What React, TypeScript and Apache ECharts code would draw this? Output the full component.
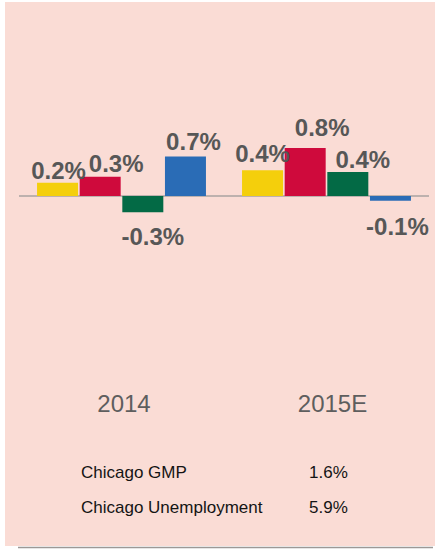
import React, { useEffect, useRef } from "react";
import * as echarts from "echarts";

const categories = ["2014", "2015E"];
const seriesNames = ["S1", "S2", "S3", "S4"];
const seriesColors = ["#f4cf0c", "#cf0a3c", "#036a45", "#2a6cb6"];
const valuesS1 = [0.22, 0.43];
const valuesS2 = [0.32, 0.8];
const valuesS3 = [-0.27, 0.4];
const valuesS4 = [0.66, -0.08];
const tableLabels = ["Chicago GMP", "Chicago Unemployment"];
const tableValues = ["1.6%", "5.9%"];

const FONT = "'Liberation Sans', Arial, sans-serif";

// label nudges (layout only), per series then per category
const labelNudge = [
  [[1, 3], [0, -2]],
  [[16, 2], [17, -6]],
  [[10, -2], [15, 2]],
  [[8, 0], [7, 0]],
];
const yearPad = [5, 12];

export default function App() {
  const ref = useRef<HTMLDivElement>(null);
  useEffect(() => {
    if (!ref.current) return;
    const chart = echarts.init(ref.current, null, { renderer: "svg" });
    const allValues = [valuesS1, valuesS2, valuesS3, valuesS4];
    const series: any[] = allValues.map((vals, i) => ({
      name: seriesNames[i],
      type: "bar",
      barWidth: 41,
      barGap: "4%",
      itemStyle: { color: seriesColors[i] },
      data: vals.map((v, j) => ({
        value: v,
        label: {
          show: true,
          position: v < 0 ? "bottom" : "top",
          distance: v < 0 ? 14 : 3,
          offset: labelNudge[i][j],
          formatter: () => v.toFixed(1) + "%",
          fontSize: 24,
          fontWeight: "bold",
          color: "#575757",
          fontFamily: FONT,
        },
      })),
      z: 3,
    }));
    series[0].markLine = {
      silent: true,
      symbol: "none",
      label: { show: false },
      lineStyle: { color: "#a9a3a0", width: 1.5, type: "solid" },
      data: [{ yAxis: 0 }],
      z: 1,
    };
    const graphics: any[] = [
      {
        type: "rect",
        z: -10,
        silent: true,
        shape: { x: 5, y: 2, width: 430, height: 544 },
        style: { fill: "#fadcd5" },
      },
      {
        type: "line",
        z: -5,
        silent: true,
        shape: { x1: 18, y1: 547.5, x2: 433, y2: 547.5 },
        style: { stroke: "#9c9896", lineWidth: 1.5 },
      },
    ];
    tableLabels.forEach((t, i) => {
      graphics.push({
        type: "text",
        x: 81,
        y: 472 + i * 35,
        style: {
          text: t,
          fontSize: 17,
          fontFamily: FONT,
          fill: "#141414",
          textVerticalAlign: "middle",
        },
      });
      graphics.push({
        type: "text",
        x: 309,
        y: 472 + i * 35,
        style: {
          text: tableValues[i],
          fontSize: 17,
          fontFamily: FONT,
          fill: "#141414",
          textVerticalAlign: "middle",
        },
      });
    });
    chart.setOption({
      animation: false,
      backgroundColor: "#ffffff",
      grid: { left: 19, width: 410, top: 136, height: 240 },
      xAxis: {
        type: "category",
        data: categories.map((c, i) => ({
          value: c,
          textStyle: { padding: [0, 0, 0, yearPad[i]] },
        })),
        axisLine: { show: false, onZero: false },
        axisTick: { show: false },
        axisLabel: {
          margin: 15,
          fontSize: 24,
          color: "#5e5e5e",
          fontFamily: FONT,
        },
      },
      yAxis: {
        type: "value",
        min: -3,
        max: 1,
        interval: 1,
        show: false,
        splitLine: { show: false },
      },
      graphic: graphics,
      series,
    });
    return () => chart.dispose();
  }, []);
  return (
    <div
      ref={ref}
      style={{ position: "fixed", left: 0, top: 0, width: 439, height: 549 }}
    />
  );
}
